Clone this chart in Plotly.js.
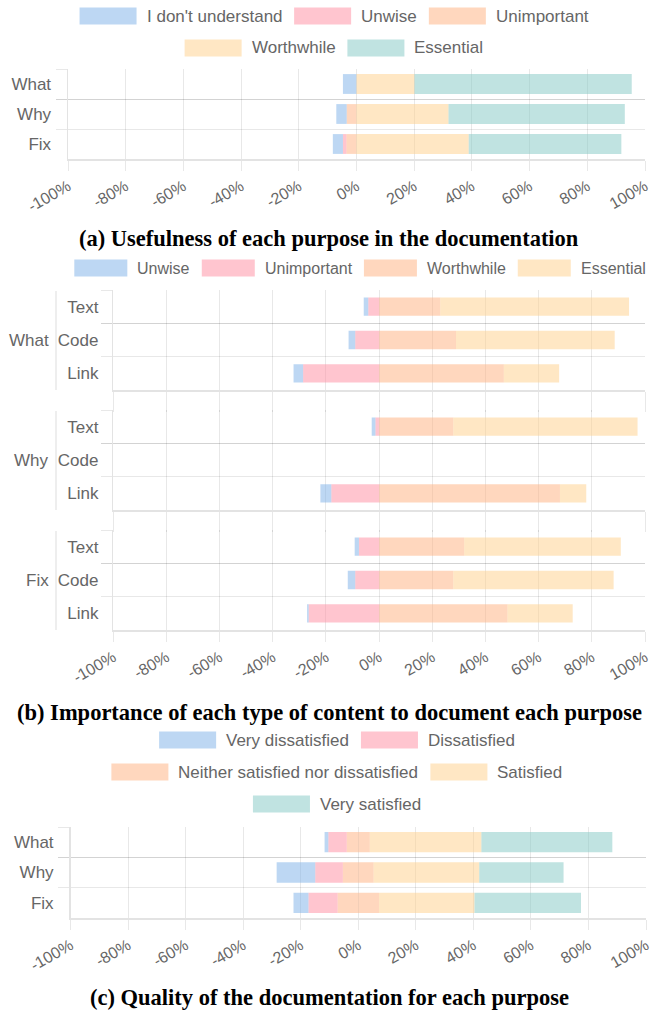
<!DOCTYPE html>
<html><head><meta charset="utf-8">
<script src="https://cdn.plot.ly/plotly-3.0.1.min.js"></script>
<style>html,body{margin:0;padding:0;background:#fff;} #chart{width:658px;height:1012px;}</style>
</head><body><div id="chart"></div>
<script>
// ---------- DATA ----------
const purposes = ['What', 'Why', 'Fix'];
const usefulnessLevels = ["I don't understand", 'Unwise', 'Unimportant', 'Worthwhile', 'Essential'];
const usefulDontUnderstand = [4.7, 3.6, 3.5];
const usefulUnwise = [0, 0, 1.2];
const usefulUnimportant = [0, 3.4, 3.5];
const usefulWorthwhile = [20.1, 31.9, 38.9];
const usefulEssential = [75.3, 61.1, 52.9];

const contentTypes = ['Text', 'Code', 'Link'];
const importanceLevels = ['Unwise', 'Unimportant', 'Worthwhile', 'Essential'];
const whatUnwise = [1.7, 2.5, 3.6];
const whatUnimportant = [4.1, 9.0, 28.6];
const whatWorthwhile = [23.0, 28.9, 46.9];
const whatEssential = [71.0, 59.7, 20.8];
const whyUnwise = [1.4, 0, 4.1];
const whyUnimportant = [1.4, 0, 18.0];
const whyWorthwhile = [27.9, 0, 68.0];
const whyEssential = [69.3, 0, 9.9];
const fixUnwise = [1.6, 2.8, 0.6];
const fixUnimportant = [7.6, 9.0, 26.5];
const fixWorthwhile = [32.0, 27.9, 48.3];
const fixEssential = [58.9, 60.3, 24.5];

const qualityLevels = ['Very dissatisfied', 'Dissatisfied', 'Neither satisfied nor dissatisfied', 'Satisfied', 'Very satisfied'];
const qualityVeryDissatisfied = [1.3, 13.4, 5.2];
const qualityDissatisfied = [6.4, 9.6, 10.1];
const qualityNeutral = [8.0, 10.7, 14.4];
const qualitySatisfied = [38.8, 36.7, 33.2];
const qualityVerySatisfied = [45.5, 29.3, 37.0];

const xTickValues = [-100, -80, -60, -40, -20, 0, 20, 40, 60, 80, 100];
const xTickLabels = ['-100%', '-80%', '-60%', '-40%', '-20%', '0%', '20%', '40%', '60%', '80%', '100%'];

const captions = [
  '(a) Usefulness of each purpose in the documentation',
  '(b) Importance of each type of content to document each purpose',
  '(c) Quality of the documentation for each purpose'
];

// ---------- STYLE ----------
const W = 658, H = 1012;
const BLUE = 'rgba(123,175,231,0.5)', PINK = 'rgba(255,139,159,0.5)', PEACH = 'rgba(255,175,125,0.5)',
      YELLOW = 'rgba(255,207,137,0.5)', TEAL = 'rgba(129,199,195,0.5)';
const palette = [BLUE, PINK, PEACH, YELLOW, TEAL];
const GRID = 'rgba(0,0,0,0.09)';
const FONT = 'Liberation Sans, Arial, Helvetica, sans-serif';
const FS = 17;
const TXT = '#666';
const px2x = p => p / W;
const px2y = p => 1 - p / H;
const neg = a => a.map(v => -v);
const half = a => a.map(v => v / 2);

function bar(x, y, color, name, xa, ya, width) {
  return {type: 'bar', orientation: 'h', x: x, y: y, name: name, xaxis: xa, yaxis: ya,
    marker: {color: color, line: {width: 0}}, width: width, showlegend: false, hoverinfo: 'x+y+name'};
}

const traces = [];
// Panel (a)
traces.push(bar(neg(usefulUnimportant), purposes, PEACH, usefulnessLevels[2], 'x', 'y', 0.66));
traces.push(bar(neg(usefulUnwise), purposes, PINK, usefulnessLevels[1], 'x', 'y', 0.66));
traces.push(bar(neg(usefulDontUnderstand), purposes, BLUE, usefulnessLevels[0], 'x', 'y', 0.66));
traces.push(bar(usefulWorthwhile, purposes, YELLOW, usefulnessLevels[3], 'x', 'y', 0.66));
traces.push(bar(usefulEssential, purposes, TEAL, usefulnessLevels[4], 'x', 'y', 0.66));
// Panel (b)
const groups = [
  ['x2', 'y2', whatUnwise, whatUnimportant, whatWorthwhile, whatEssential],
  ['x3', 'y3', whyUnwise, whyUnimportant, whyWorthwhile, whyEssential],
  ['x4', 'y4', fixUnwise, fixUnimportant, fixWorthwhile, fixEssential]
];
groups.forEach(g => {
  traces.push(bar(neg(g[3]), contentTypes, PINK, importanceLevels[1], g[0], g[1], 0.55));
  traces.push(bar(neg(g[2]), contentTypes, BLUE, importanceLevels[0], g[0], g[1], 0.55));
  traces.push(bar(g[4], contentTypes, PEACH, importanceLevels[2], g[0], g[1], 0.55));
  traces.push(bar(g[5], contentTypes, YELLOW, importanceLevels[3], g[0], g[1], 0.55));
});
// Panel (c)
traces.push(bar(neg(half(qualityNeutral)), purposes, PEACH, qualityLevels[2], 'x5', 'y5', 0.67));
traces.push(bar(neg(qualityDissatisfied), purposes, PINK, qualityLevels[1], 'x5', 'y5', 0.67));
traces.push(bar(neg(qualityVeryDissatisfied), purposes, BLUE, qualityLevels[0], 'x5', 'y5', 0.67));
traces.push(bar(half(qualityNeutral), purposes, PEACH, qualityLevels[2], 'x5', 'y5', 0.67));
traces.push(bar(qualitySatisfied, purposes, YELLOW, qualityLevels[3], 'x5', 'y5', 0.67));
traces.push(bar(qualityVerySatisfied, purposes, TEAL, qualityLevels[4], 'x5', 'y5', 0.67));

// ---------- AXES ----------
function xAxis(x0, x1, anchor, showLabels, tlen) {
  return {domain: [px2x(x0), px2x(x1)], anchor: anchor, range: [-100, 100], tickmode: 'array',
    tickvals: xTickValues, ticktext: xTickLabels, showticklabels: showLabels, showgrid: true, gridcolor: GRID,
    gridwidth: 1, zeroline: false, ticks: 'outside', ticklen: tlen, tickcolor: GRID, tickwidth: 1,
    tickangle: -30, tickfont: {family: FONT, size: 16, color: TXT}, showline: true, linecolor: 'rgba(0,0,0,0.11)',
    linewidth: 2, fixedrange: true};
}
function yAxis(y0, y1, anchor, standoff) {
  return {domain: [px2y(y1), px2y(y0)], anchor: anchor, type: 'category', autorange: 'reversed',
    tickson: 'boundaries', ticks: 'outside', ticklen: 11, tickcolor: GRID, tickwidth: 1, showgrid: true,
    gridcolor: GRID, zeroline: false, showline: true, linecolor: 'rgba(0,0,0,0.11)', linewidth: 1.5,
    tickfont: {family: FONT, size: FS, color: TXT}, ticklabelstandoff: standoff, fixedrange: true};
}

const bGroupsY = [[290, 390], [410, 510], [530, 630]];
const layout = {
  width: W, height: H, margin: {l: 0, r: 0, t: 0, b: 0, pad: 0},
  paper_bgcolor: '#fff', plot_bgcolor: 'rgba(0,0,0,0)', barmode: 'relative', showlegend: false,
  font: {family: FONT, color: TXT},
  xaxis: xAxis(68, 645, 'y', true, 10),
  yaxis: yAxis(69, 159, 'x', 12),
  xaxis2: xAxis(113.3, 645, 'y2', false, 20),
  yaxis2: yAxis(bGroupsY[0][0], bGroupsY[0][1], 'x2', 10),
  xaxis3: xAxis(113.3, 645, 'y3', false, 20),
  yaxis3: yAxis(bGroupsY[1][0], bGroupsY[1][1], 'x3', 10),
  xaxis4: xAxis(113.3, 645, 'y4', true, 10),
  yaxis4: yAxis(bGroupsY[2][0], bGroupsY[2][1], 'x4', 10),
  xaxis5: xAxis(70.5, 646, 'y5', true, 10),
  yaxis5: yAxis(827, 918, 'x5', 12),
  shapes: [], annotations: []
};

// ---------- MANUAL LEGENDS (wide swatches) ----------
const ctx = document.createElement('canvas').getContext('2d');
function addLegend(labels, colors, rowsIdx, firstRowY, centerX, fs, sw) {
  const SH = 17, GAP = 8, PAD = 14, LINE = 32;
  ctx.font = fs + 'px "Liberation Sans", Arial, sans-serif';
  rowsIdx.forEach((rowIdx, r) => {
    const row = rowIdx.map(i => ({lab: labels[i], color: colors[i], w: sw + GAP + ctx.measureText(labels[i]).width}));
    const total = row.reduce((s, it) => s + it.w, 0) + PAD * (row.length - 1);
    let x = centerX - total / 2;
    const yc = firstRowY + r * LINE;
    row.forEach(it => {
      layout.shapes.push({type: 'rect', xref: 'paper', yref: 'paper', x0: px2x(x), x1: px2x(x + sw),
        y0: px2y(yc + SH / 2), y1: px2y(yc - SH / 2), fillcolor: it.color, line: {width: 0}});
      layout.annotations.push({xref: 'paper', yref: 'paper', x: px2x(x + sw + GAP), y: px2y(yc),
        xanchor: 'left', yanchor: 'middle', text: it.lab, showarrow: false,
        font: {family: FONT, size: fs, color: TXT}});
      x += it.w + PAD;
    });
  });
}
addLegend(usefulnessLevels, palette, [[0, 1, 2], [3, 4]], 16, 333, 17, 57);
addLegend(importanceLevels, palette, [[0, 1, 2, 3]], 268, 359, 16, 53);
addLegend(qualityLevels, palette, [[0, 1], [2, 3], [4]], 740, 336, 17, 57);

// ---------- GROUP LABELS for panel (b) ----------
purposes.forEach((p, i) => {
  const [t, b] = bGroupsY[i];
  layout.annotations.push({xref: 'paper', yref: 'paper', x: px2x(51), y: px2y((t + b) / 2), xanchor: 'right',
    yanchor: 'middle', text: p, showarrow: false, font: {family: FONT, size: FS, color: TXT}});
  layout.shapes.push({type: 'line', xref: 'paper', yref: 'paper', x0: px2x(56), x1: px2x(56),
    y0: px2y(t + 1), y1: px2y(b), line: {color: GRID, width: 1.5}});
});

// ---------- CAPTIONS ----------
[[captions[0], 239], [captions[1], 712], [captions[2], 997]].forEach(c => {
  layout.annotations.push({xref: 'paper', yref: 'paper', x: 0.5, y: px2y(c[1]), xanchor: 'center',
    yanchor: 'middle', text: c[0], showarrow: false,
    font: {family: 'Liberation Serif, DejaVu Serif, serif', size: 22.5, color: '#000', weight: 'bold'}});
});

Plotly.newPlot('chart', traces, layout, {displayModeBar: false, staticPlot: true});
</script></body></html>
